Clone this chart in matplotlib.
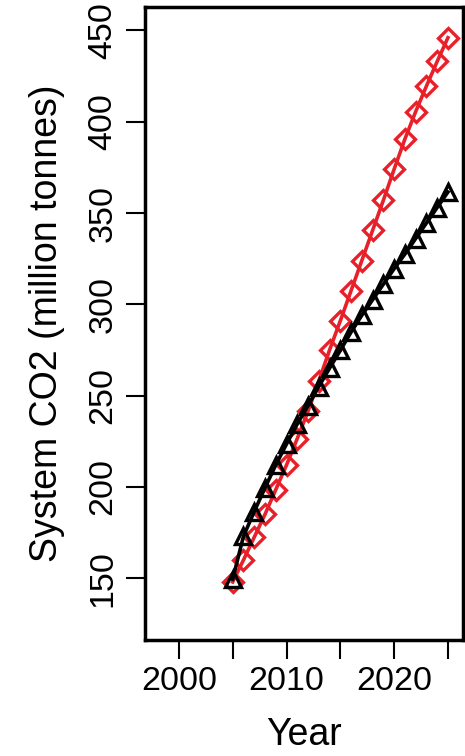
import matplotlib
matplotlib.use("Agg")
import matplotlib.pyplot as plt

years = list(range(2005, 2026))
red_co2 = [148.0, 160.0, 172.5, 185.0, 198.5, 212.0, 226.5, 241.5, 258.0, 275.0,
           291.0, 307.5, 324.0, 340.5, 357.0, 374.0, 390.5, 405.5, 419.5, 433.0, 446.0]
black_co2 = [149.5, 173.0, 186.5, 199.5, 212.0, 223.5, 234.5, 244.5, 255.0, 265.0,
             274.8, 284.8, 294.0, 302.5, 311.0, 319.5, 327.5, 336.0, 344.5, 353.0, 361.5]
x_ticks = [2000, 2005, 2010, 2015, 2020, 2025]
x_labels = ["2000", "", "2010", "", "2020", ""]
y_ticks = [150, 200, 250, 300, 350, 400, 450]

plt.rcParams['font.family'] = ['Liberation Sans', 'DejaVu Sans']

fig = plt.figure(figsize=(4.65, 7.56), dpi=100)
ax = fig.add_axes([0.3118, 0.1534, 0.6839, 0.8373])

red = '#e8202a'
ax.plot(years, red_co2, color=red, lw=2.6, marker='D', markersize=10,
        markerfacecolor='none', markeredgecolor=red, markeredgewidth=2.4, zorder=2)
ax.plot(years, black_co2, color='black', lw=2.6, marker='^', markersize=12,
        markerfacecolor='none', markeredgecolor='black', markeredgewidth=2.4, zorder=3)

ax.set_xlim(1996.85, 2026.4)
ax.set_ylim(116.2, 462.8)
ax.set_xticks(x_ticks)
ax.set_xticklabels(x_labels)
ax.set_yticks(y_ticks)
ax.set_yticklabels([str(v) for v in y_ticks], rotation=90, va='center')

ax.tick_params(axis='both', direction='out', length=14, width=1.5, labelsize=24.5, pad=5)
for s in ax.spines.values():
    s.set_linewidth(2.5)

ax.set_xlabel("Year", fontsize=27, labelpad=14)
ax.set_ylabel("System CO2 (million tonnes)", fontsize=27, labelpad=16)

fig.savefig("out.png", dpi=100)
